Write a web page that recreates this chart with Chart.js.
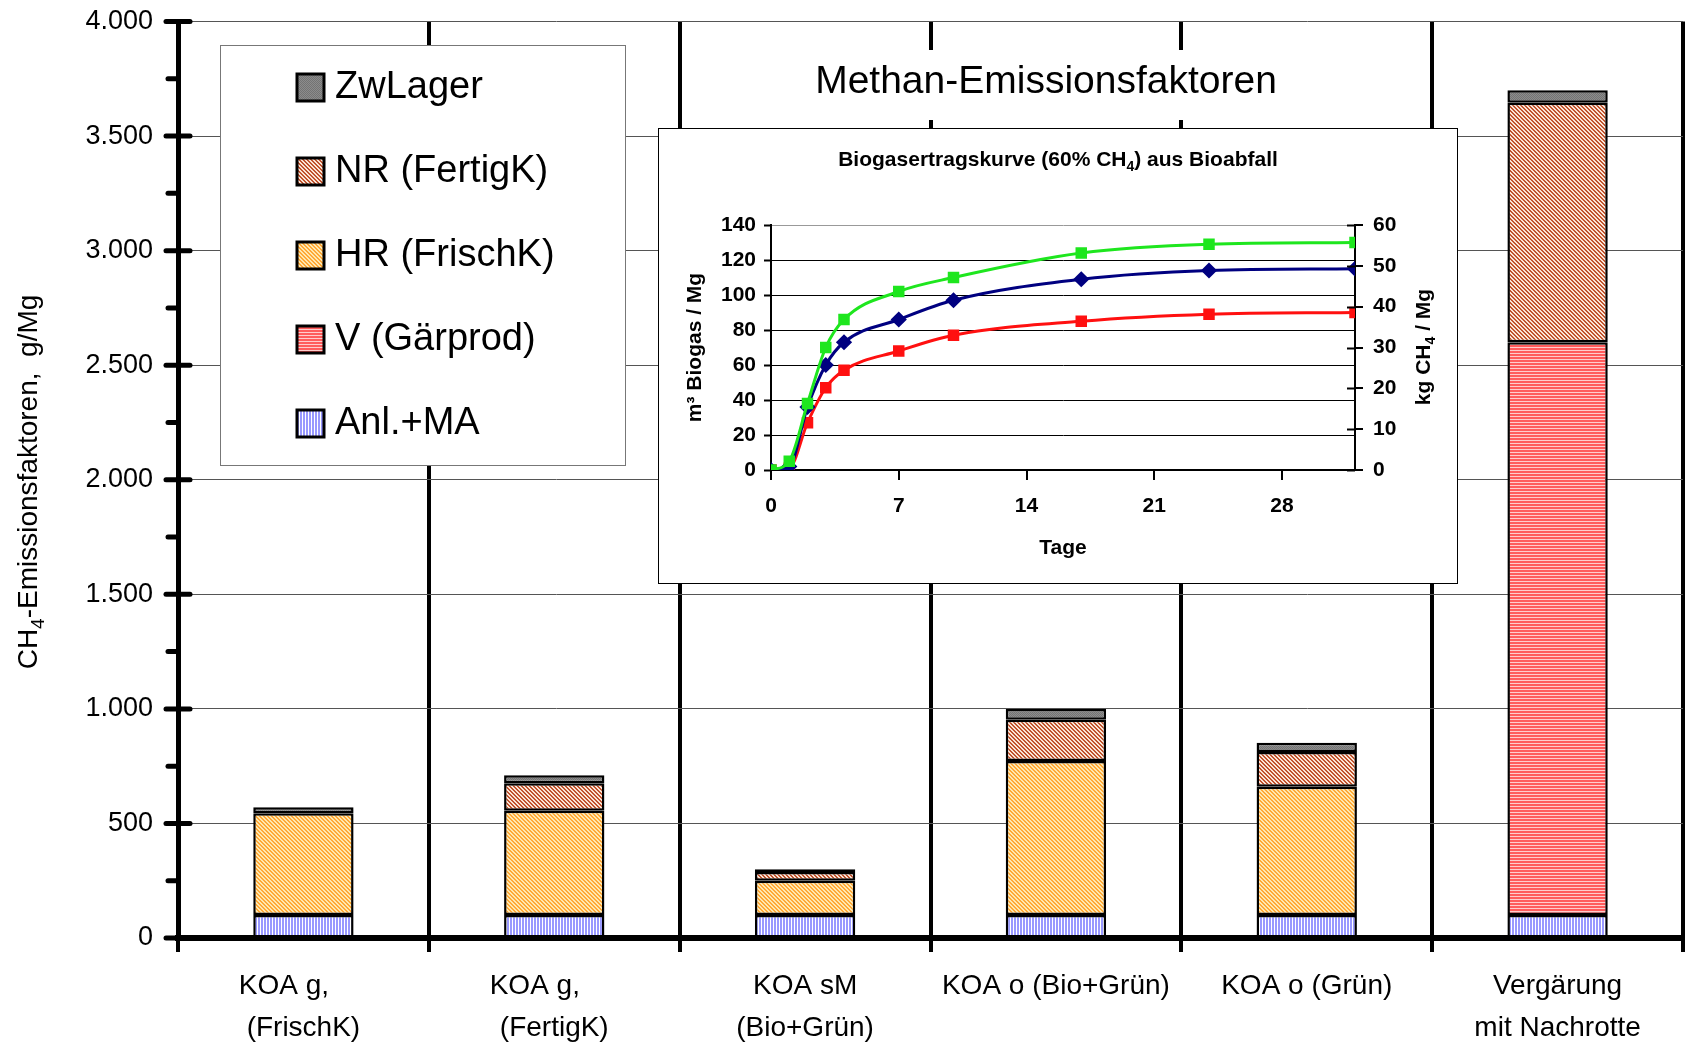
<!DOCTYPE html>
<html>
<head>
<meta charset="utf-8">
<script src="https://cdn.jsdelivr.net/npm/chart.js@4.4.1/dist/chart.umd.min.js"></script>
<style>
html, body { margin: 0; padding: 0; background: #fff; overflow: hidden; }
#wrap { position: relative; width: 1686px; height: 1047px; }
#mainChart { display: block; }
#inset { position: absolute; left: 658px; top: 128px; width: 800px; height: 456px; box-sizing: border-box; border: 1px solid #000; background: #fff; }
#insetChart { display: block; }
</style>
</head>
<body>
<div id="wrap">
  <canvas id="mainChart" width="1686" height="1047"></canvas>
  <div id="inset"><canvas id="insetChart" width="798" height="454"></canvas></div>
</div>
<script>
// Hauptdiagramm: Methan-Emissionsfaktoren (g/Mg)
const categories = [
    ['KOA g,     ', '(FrischK)'],
    ['KOA g,     ', '(FertigK)'],
    ['KOA sM', '(Bio+Grün)'],
    'KOA o (Bio+Grün)',
    'KOA o (Grün)',
    ['Vergärung', 'mit Nachrotte']
];
const anlMA    = [100, 100, 100, 100, 100, 100];
const vGaer    = [null, null, null, null, null, 2500];
const hrFrisch = [444, 455, 150, 672, 560, null];
const nrFertig = [null, 120, 38, 180, 152, 1045];
const zwLager  = [27, 35, 12, 48, 40, 55];

// Einschub: Biogasertragskurve
const days       = [0, 1, 2, 3, 4, 7, 10, 17, 24, 32];
const biogasHigh = [0, 5, 38, 70, 86, 102, 110, 124, 129, 130];
const biogasMid  = [0, 2, 36, 60, 73, 86, 97, 109, 114, 115];
const biogasLow  = [0, 1, 27, 47, 57, 68, 77, 85, 89, 90];
const dayTicks   = [0, 7, 14, 21, 28];

Chart.defaults.font.family = "'Liberation Sans', Arial, sans-serif";
Chart.defaults.color = '#000';

function makePattern(size, painter) {
    const c = document.createElement('canvas');
    c.width = size; c.height = size;
    const g = c.getContext('2d');
    painter(g, size);
    return g.createPattern(c, 'repeat');
}
function diagPattern(light, dark) {
    return makePattern(4, (g) => {
        g.fillStyle = light; g.fillRect(0, 0, 4, 4);
        g.fillStyle = dark;
        for (let i = 0; i < 4; i++) {
            g.fillRect(i, i % 4, 1, 1);
            g.fillRect(i, (i + 1) % 4, 1, 1);
        }
    });
}
const patAnl = makePattern(3, (g) => { g.fillStyle = '#fff'; g.fillRect(0, 0, 3, 3); g.fillStyle = '#9898ff'; g.fillRect(0, 0, 2, 3); });
const patV = makePattern(3, (g) => { g.fillStyle = '#ffcccc'; g.fillRect(0, 0, 3, 3); g.fillStyle = '#ff5c5c'; g.fillRect(0, 0, 3, 2); });
const patHR = diagPattern('#ffe8b0', '#ffa836');
const patNR = diagPattern('#fbe4d6', '#c0532d');
const patZw = makePattern(2, (g) => { g.fillStyle = '#8c8c8c'; g.fillRect(0, 0, 2, 2); g.fillStyle = '#737373'; g.fillRect(0, 0, 1, 1); g.fillRect(1, 1, 1, 1); });

function fmtDe(v) {
    return v >= 1000 ? Math.floor(v / 1000) + '.' + String(v % 1000).padStart(3, '0') : String(v);
}

// text with subscript parts, centered on (cx,cy)
function drawRich(ctx, parts, font, subFont, cx, cy, rot) {
    ctx.save();
    ctx.translate(cx, cy);
    if (rot) ctx.rotate(rot);
    ctx.textBaseline = 'alphabetic';
    ctx.textAlign = 'left';
    let total = 0;
    parts.forEach(p => { ctx.font = p.sub ? subFont : font; total += ctx.measureText(p.t).width; });
    let x = -total / 2;
    parts.forEach(p => {
        ctx.font = p.sub ? subFont : font;
        ctx.fillStyle = '#000';
        ctx.fillText(p.t, x, p.sub ? p.dy : 0);
        x += ctx.measureText(p.t).width;
    });
    ctx.restore();
}

const mainDecor = {
    id: 'mainDecor',
    afterDraw(chart) {
        const { ctx, chartArea, scales: { y } } = chart;
        ctx.save();
        // y-axis tick marks (major crossing, minor outside)
        ctx.strokeStyle = '#000';
        ctx.lineCap = 'round';
        ctx.lineWidth = 5;
        y.ticks.forEach(t => {
            const py = y.getPixelForValue(t.value);
            const major = t.value % 500 === 0;
            ctx.beginPath();
            ctx.moveTo(chartArea.left - (major ? 12 : 10), py);
            ctx.lineTo(chartArea.left + (major ? 12 : 0), py);
            ctx.stroke();
        });
        // title on white box
        ctx.fillStyle = '#fff';
        ctx.fillRect(805, 50, 480, 70);
        ctx.fillStyle = '#000';
        ctx.font = "39px 'Liberation Sans', Arial, sans-serif";
        ctx.textAlign = 'center';
        ctx.textBaseline = 'alphabetic';
        ctx.fillText('Methan-Emissionsfaktoren', 1046, 93);
        // y-axis title
        drawRich(ctx, [
            { t: 'CH' }, { t: '4', sub: true, dy: 7 }, { t: '-Emissionsfaktoren,  g/Mg' }
        ], "28px 'Liberation Sans', Arial, sans-serif", "19px 'Liberation Sans', Arial, sans-serif", 37, 482, -Math.PI / 2);
        // legend box
        ctx.fillStyle = '#fff';
        ctx.fillRect(220, 45, 405, 420);
        ctx.strokeStyle = '#777';
        ctx.lineWidth = 1;
        ctx.strokeRect(220.5, 45.5, 405, 420);
        const items = chart.data.datasets.slice().reverse();
        items.forEach((ds, i) => {
            const cy = 87 + i * 84;
            ctx.fillStyle = ds.backgroundColor;
            ctx.fillRect(297, cy - 13, 27, 27);
            ctx.strokeStyle = '#000';
            ctx.lineWidth = 3;
            ctx.strokeRect(297, cy - 13, 27, 27);
            ctx.fillStyle = '#000';
            ctx.font = "38px 'Liberation Sans', Arial, sans-serif";
            ctx.textAlign = 'left';
            ctx.textBaseline = 'middle';
            ctx.fillText(ds.label, 335, cy + 1);
        });
        ctx.restore();
    }
};

const barStyle = { borderColor: '#000', borderWidth: 2.5, borderSkipped: false, barPercentage: 0.4, categoryPercentage: 1 };

new Chart(document.getElementById('mainChart'), {
    type: 'bar',
    data: {
        labels: categories,
        datasets: [
            { label: 'Anl.+MA', data: anlMA, backgroundColor: patAnl, ...barStyle },
            { label: 'V (Gärprod)', data: vGaer, backgroundColor: patV, ...barStyle },
            { label: 'HR (FrischK)', data: hrFrisch, backgroundColor: patHR, ...barStyle },
            { label: 'NR (FertigK)', data: nrFertig, backgroundColor: patNR, ...barStyle },
            { label: 'ZwLager', data: zwLager, backgroundColor: patZw, ...barStyle }
        ]
    },
    options: {
        responsive: false,
        animation: false,
        layout: { padding: { top: 21.5, right: 3 } },
        plugins: { legend: { display: false }, tooltip: { enabled: false } },
        scales: {
            x: {
                stacked: true,
                grid: { offset: true, color: '#000', lineWidth: 4, tickLength: 14 },
                border: { color: '#000', width: 6 },
                ticks: { color: '#000', font: { size: 28, lineHeight: 1.5 }, padding: 13, maxRotation: 0, autoSkip: false },
                afterFit(s) { s.height = 109; }
            },
            y: {
                stacked: true,
                min: 0,
                max: 4000,
                ticks: {
                    stepSize: 250, color: '#000', font: { size: 27 }, padding: 1,
                    callback: v => v % 500 === 0 ? fmtDe(v) : ''
                },
                grid: {
                    color: c => c.tick && c.tick.value % 500 === 0 ? '#555' : 'rgba(0,0,0,0)',
                    lineWidth: 1, tickLength: 24, tickColor: 'rgba(0,0,0,0)'
                },
                border: { color: '#000', width: 5 },
                afterFit(s) { s.width = 178; }
            }
        }
    },
    plugins: [mainDecor]
});

const insetDecor = {
    id: 'insetDecor',
    afterDraw(chart) {
        const { ctx, chartArea, scales: { y2 } } = chart;
        ctx.save();
        ctx.strokeStyle = '#000';
        ctx.lineWidth = 2;
        y2.ticks.forEach(t => {
            const py = Math.round(y2.getPixelForValue(t.value)) + 0.5;
            ctx.beginPath();
            ctx.moveTo(chartArea.right - 8, py);
            ctx.lineTo(chartArea.right, py);
            ctx.stroke();
        });
        const bold = "bold 21px 'Liberation Sans', Arial, sans-serif";
        const boldSub = "bold 14px 'Liberation Sans', Arial, sans-serif";
        drawRich(ctx, [
            { t: 'Biogasertragskurve (60% CH' }, { t: '4', sub: true, dy: 5 }, { t: ') aus Bioabfall' }
        ], bold, boldSub, 399, 37, 0);
        drawRich(ctx, [
            { t: 'kg CH' }, { t: '4', sub: true, dy: 5 }, { t: ' / Mg' }
        ], bold, boldSub, 771, 218, -Math.PI / 2);
        ctx.restore();
    }
};

function series(label, values, color, style) {
    return {
        label: label,
        data: days.map((d, i) => ({ x: d, y: values[i] })),
        borderColor: color,
        backgroundColor: color,
        pointBackgroundColor: color,
        pointBorderColor: color,
        pointStyle: style,
        pointRadius: 6,
        borderWidth: 3,
        cubicInterpolationMode: 'monotone',
        yAxisID: 'y'
    };
}

new Chart(document.getElementById('insetChart'), {
    type: 'line',
    data: {
        datasets: [
            series('Biogas hoch', biogasHigh, '#1ee61e', 'rect'),
            series('Biogas mittel', biogasMid, '#000080', 'rectRot'),
            series('Biogas niedrig', biogasLow, '#ff1010', 'rect')
        ]
    },
    options: {
        responsive: false,
        animation: false,
        layout: { padding: { top: 96 } },
        plugins: { legend: { display: false }, tooltip: { enabled: false } },
        scales: {
            x: {
                type: 'linear', min: 0, max: 32,
                afterBuildTicks(s) { s.ticks = dayTicks.map(v => ({ value: v })); },
                grid: { drawOnChartArea: false, color: '#000', lineWidth: 2, tickLength: 10 },
                border: { color: '#000', width: 2 },
                ticks: { color: '#000', font: { size: 21, weight: 'bold' }, padding: 14 },
                title: { display: true, text: 'Tage', color: '#000', font: { size: 21, weight: 'bold' }, padding: { top: 0, bottom: 22 } },
                afterFit(s) { s.height = 113; }
            },
            y: {
                position: 'left', min: 0, max: 140,
                ticks: { stepSize: 20, color: '#000', font: { size: 21, weight: 'bold' }, padding: 8 },
                grid: { color: c => c.tick && c.tick.value === 140 ? '#999' : '#000', lineWidth: 1, tickLength: 7, tickColor: '#000', tickWidth: 2 },
                border: { color: '#000', width: 2 },
                title: { display: true, text: 'm³ Biogas / Mg', color: '#000', font: { size: 21, weight: 'bold' }, padding: { top: 24, bottom: 0 } },
                afterFit(s) { s.width = 112; }
            },
            y2: {
                position: 'right', min: 0, max: 60,
                ticks: { stepSize: 10, color: '#000', font: { size: 21, weight: 'bold' }, padding: 10 },
                grid: { drawOnChartArea: false, color: '#000', lineWidth: 2, tickLength: 8 },
                border: { color: '#000', width: 2 },
                afterFit(s) { s.width = 102; }
            }
        }
    },
    plugins: [insetDecor]
});
</script>
</body>
</html>
